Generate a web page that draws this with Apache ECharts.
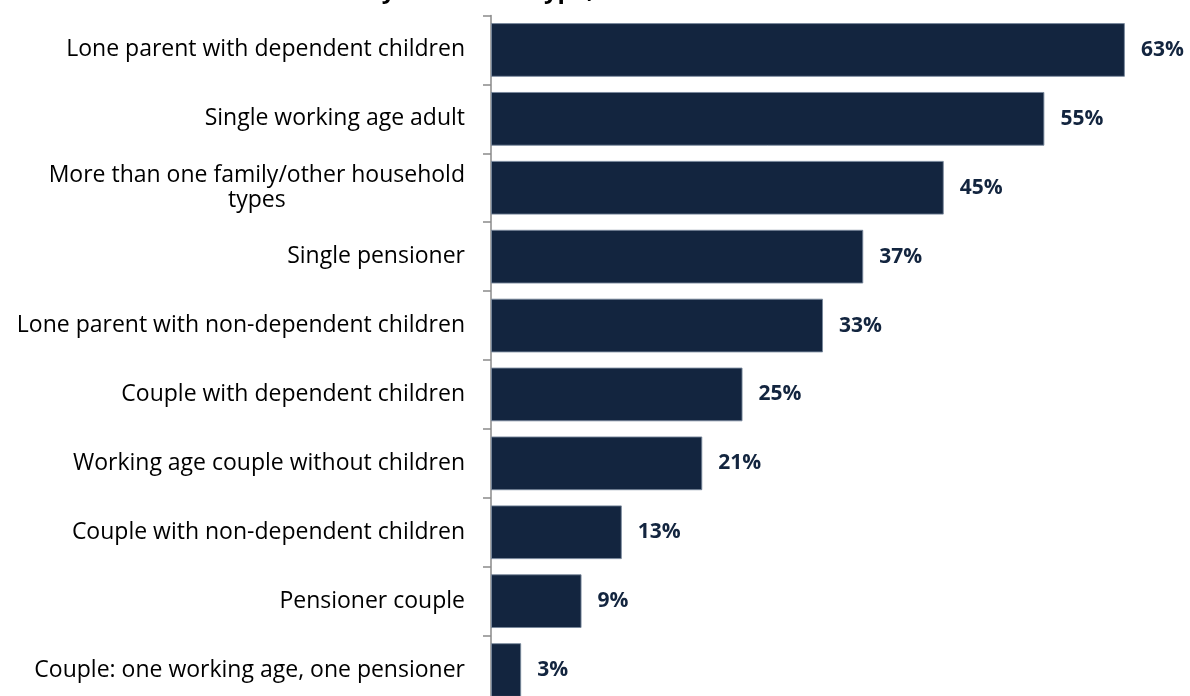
<!DOCTYPE html>
<html>
<head>
<meta charset="utf-8">
<title>Rented households by household type</title>
<script src="https://cdn.jsdelivr.net/npm/echarts@6/dist/echarts.min.js"></script>
<style>
  html, body { margin: 0; padding: 0; background: #ffffff; }
  #chart { width: 1190px; height: 696px; }
</style>
</head>
<body>
<div id="chart"></div>
<script>
// Household types, listed top to bottom
const householdTypes = [
  'Lone parent with dependent children',
  'Single working age adult',
  'More than one family/other household types',
  'Single pensioner',
  'Lone parent with non-dependent children',
  'Couple with dependent children',
  'Working age couple without children',
  'Couple with non-dependent children',
  'Pensioner couple',
  'Couple: one working age, one pensioner'
];

// Share of households (%)
const shareValues = [63, 55, 45, 37, 33, 25, 21, 13, 9, 3];

const titleText = 'Chart 4: Rented households by household type, 2016';

const NAVY = '#13253f';
const FONT = '"Open Sans", "Noto Sans", sans-serif';

// The long label breaks onto a second, centred line
function wrapLabel(name) {
  if (name === 'More than one family/other household types') {
    return '{c|More than one family/other household}\n{c|types}';
  }
  return '{c|' + name + '}';
}

const chart = echarts.init(document.getElementById('chart'), null, { renderer: 'canvas' });

chart.setOption({
  backgroundColor: '#ffffff',
  animation: false,
  title: {
    text: titleText,
    left: 26,
    top: -26,
    textStyle: { fontFamily: FONT, fontSize: 24, fontWeight: 'bold', color: '#000000' }
  },
  // The plot runs a little past the lower edge of the page
  grid: { left: 491, top: 15.5, width: 654, height: 689, containLabel: false, outerBoundsMode: 'none' },
  xAxis: {
    type: 'value',
    min: 0,
    max: 65,
    show: false,
    splitLine: { show: false }
  },
  yAxis: {
    type: 'category',
    inverse: true,
    data: householdTypes,
    axisLine: { show: true, lineStyle: { color: '#8a8a8a', width: 1.5 } },
    axisTick: { show: true, length: 8, lineStyle: { color: '#8a8a8a', width: 1.5 } },
    axisLabel: {
      margin: 26,
      color: '#000000',
      fontFamily: FONT,
      fontSize: 23,
      lineHeight: 25,
      formatter: wrapLabel,
      rich: {
        c: { align: 'center', fontFamily: FONT, fontSize: 23, lineHeight: 25, color: '#000000' }
      }
    }
  },
  series: [{
    type: 'bar',
    data: shareValues,
    barCategoryGap: '22%',
    itemStyle: { color: NAVY, borderColor: 'rgba(120,135,155,0.9)', borderWidth: 1 },
    label: {
      show: true,
      position: 'right',
      distance: 16,
      formatter: '{c}%',
      fontFamily: FONT,
      fontSize: 21,
      fontWeight: 'bold',
      color: NAVY
    }
  }]
});
</script>
</body>
</html>
